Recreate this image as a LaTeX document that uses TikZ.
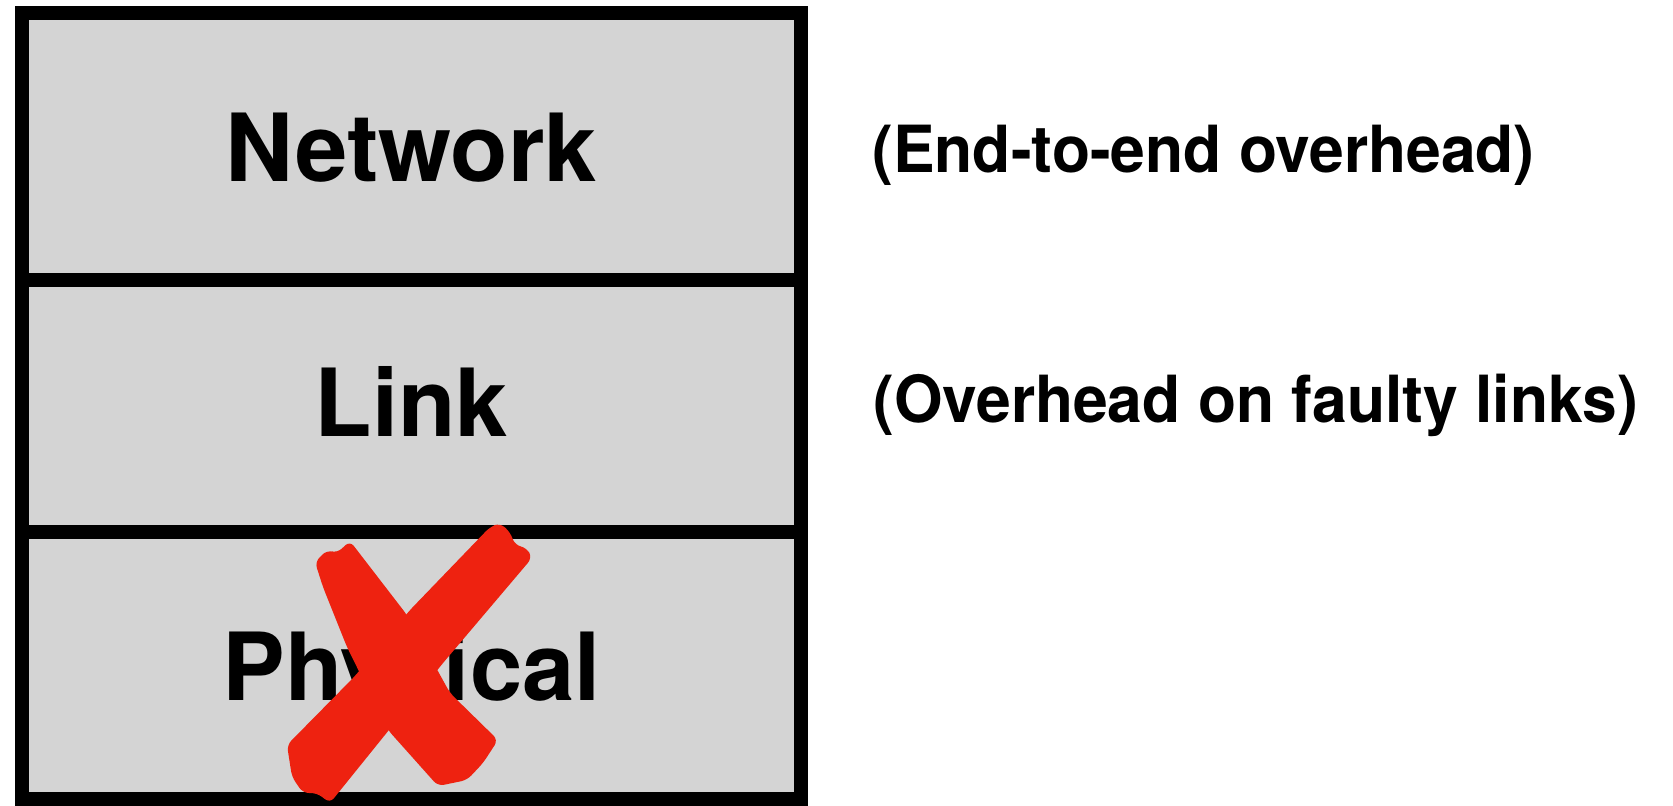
\documentclass[tikz,border=0pt]{standalone}
\usepackage{fontspec}
\setmainfont{TeX Gyre Heros}
\newfontfamily\notefont[FakeStretch=0.96]{TeX Gyre Heros}
\usetikzlibrary{positioning}
\definecolor{layergray}{HTML}{D4D4D4}
\definecolor{crossred}{HTML}{EE2210}

\tikzset{
  layer/.style={draw=black,fill=layergray,line width=6.75pt,minimum width=389.5pt,
    outer sep=0pt,inner sep=0pt,text height=35pt,text depth=0pt,
    font=\fontsize{47}{50}\selectfont\bfseries},
  note/.style={anchor=base west,inner sep=0pt,font=\notefont\fontsize{32.5}{35}\selectfont\bfseries}
}

\begin{document}
\begin{tikzpicture}[x=.5pt,y=-.5pt]
\useasboundingbox (0,0) rectangle (1673,805);
% the stack
\node[layer,minimum height=133.5pt] (network) at (411.5,146.5) {Network};
\node[layer,minimum height=126pt,text depth=5pt,below=0pt of network] (link) {Link};
\node[layer,minimum height=133.5pt,below=0pt of link] (physical) {Physical};
% red cross over the physical layer
\fill[crossred,rounded corners=3pt] (315,562) -- (327,550) -- (337,553) -- (350,541)
  -- (407,615) -- (450,693) -- (498,740) -- (483,763) -- (467,780) -- (438,786)
  -- (388,730) -- (347,647) -- (323,587) -- cycle;
\fill[crossred,rounded corners=3pt] (490,527) -- (500,523) -- (510,532) -- (515,545)
  -- (527,548) -- (532,558) -- (443,663) -- (330,803) -- (317,793) -- (303,793)
  -- (292,777) -- (287,745) -- (355,676) -- (410,610) -- cycle;
% side notes
\node[note] (e2e) at (872,172) {(End-to-end overhead)};
\node[note] (faulty) at (873,422) {(Overhead on faulty links)};
\end{tikzpicture}
\end{document}
